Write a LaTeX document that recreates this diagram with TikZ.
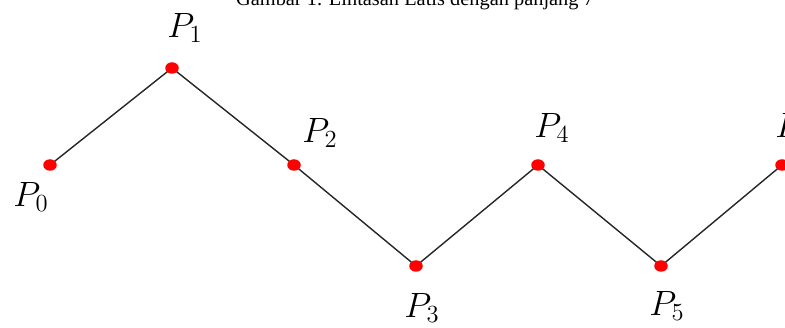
\RequirePackage{fix-cm}
\documentclass[tikz,border=0pt]{standalone}
\usepackage{fontspec}
\setmainfont{Liberation Serif}
\usetikzlibrary{backgrounds,shapes.geometric}
\definecolor{pt}{HTML}{FF0000}
\definecolor{ln}{HTML}{262626}
\tikzset{
  dot/.style={ellipse,fill=pt,inner sep=0pt,minimum width=0.27cm,minimum height=0.23cm},
  lbl/.style={inner sep=0pt,font=\fontsize{20}{24}\selectfont},
  seg/.style={line width=0.8pt,draw=ln},
}

\begin{document}
\begin{tikzpicture}
  \useasboundingbox (0,0) rectangle (15.7,6.56);
  \node[anchor=base,font=\fontsize{11.6}{13}\selectfont] (cap) at (8.30,6.44) {Gambar 1. Lintasan Latis dengan panjang 7};
  \node[dot] (p0) at (1.00,3.26) {};
  \node[dot] (p1) at (3.44,5.20) {};
  \node[dot] (p2) at (5.88,3.26) {};
  \node[dot] (p3) at (8.32,1.24) {};
  \node[dot] (p4) at (10.76,3.26) {};
  \node[dot] (p5) at (13.22,1.24) {};
  \node[dot] (p6) at (15.64,3.26) {};
  \begin{scope}[on background layer]
    \draw[seg] (p0.center) -- (p1.center) -- (p2.center) -- (p3.center)
      -- (p4.center) -- (p5.center) -- (p6.center);
  \end{scope}
  \node[lbl] (l0) at (0.62,2.62) {$P_0$};
  \node[lbl] (l1) at (3.70,6.00) {$P_1$};
  \node[lbl] (l2) at (6.40,3.90) {$P_2$};
  \node[lbl] (l3) at (8.44,0.40) {$P_3$};
  \node[lbl] (l4) at (11.04,4.00) {$P_4$};
  \node[lbl] (l5) at (13.34,0.44) {$P_5$};
  \node[lbl] (l6) at (15.86,4.00) {$P_6$};
\end{tikzpicture}
\end{document}
